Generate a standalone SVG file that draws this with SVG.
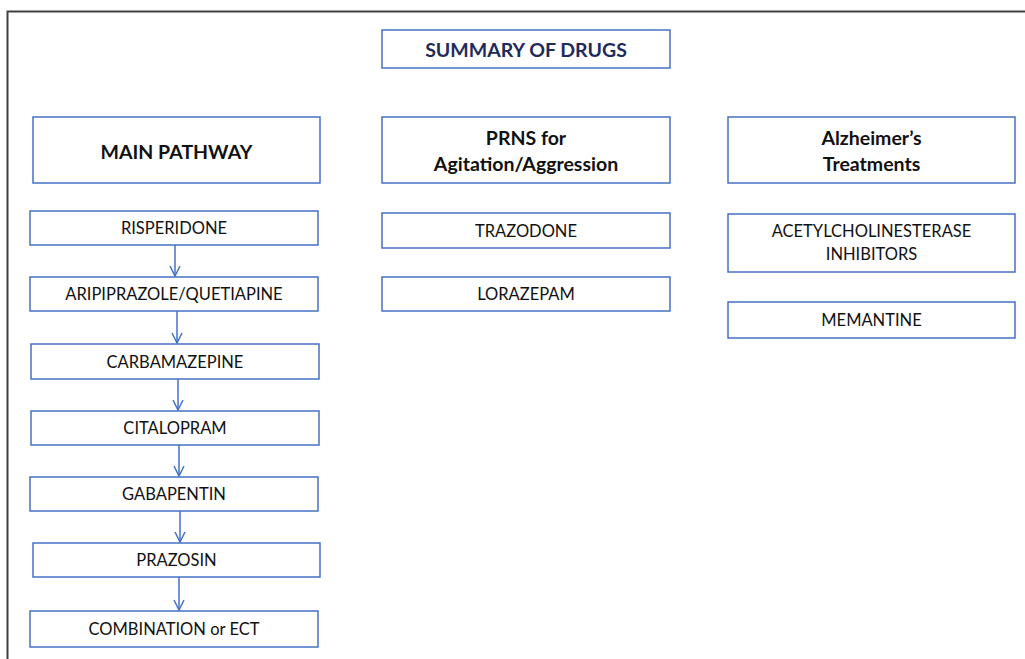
<svg xmlns="http://www.w3.org/2000/svg" width="1025" height="659" viewBox="0 0 1025 659">
<style>
.box{fill:#fff;stroke:#4472c4;stroke-width:1.5}
.t{font-family:Lato,"Open Sans",sans-serif;font-size:16.5px;fill:#111;text-anchor:middle;dominant-baseline:central}
.h{font-family:Lato,"Open Sans",sans-serif;font-size:19.5px;font-weight:bold;fill:#111;text-anchor:middle;dominant-baseline:central}
.title{fill:#1f2a5c}
.c{stroke:#4472c4;stroke-width:1.5;fill:none}
</style>
<defs>
<marker id="ah" viewBox="0 0 12 12" refX="11" refY="6" markerWidth="12" markerHeight="12" markerUnits="userSpaceOnUse" orient="auto">
<path d="M1,1 L11,6 L1,11" fill="none" stroke="#4472c4" stroke-width="1.5"/>
</marker>
</defs>
<rect width="1025" height="659" fill="#fff"/>
<path d="M7.5,700 V11.5 H1030" fill="none" stroke="#404040" stroke-width="2"/>
<g id="summary"><rect class="box" x="382" y="30" width="288" height="38"/><text class="h title" x="526" y="49">SUMMARY OF DRUGS</text></g>
<g id="main"><rect class="box" x="33" y="117" width="287" height="66"/><text class="h" x="176.5" y="151">MAIN PATHWAY</text></g>
<g id="prns"><rect class="box" x="382" y="117" width="288" height="66"/><text class="h" x="526" y="137">PRNS for</text><text class="h" x="526" y="163">Agitation/Aggression</text></g>
<g id="alz"><rect class="box" x="728" y="117" width="287" height="66"/><text class="h" x="871.5" y="137">Alzheimer’s</text><text class="h" x="871.5" y="163">Treatments</text></g>
<g id="risperidone"><rect class="box" x="30" y="211" width="288" height="34"/><text class="t" x="174" y="228">RISPERIDONE</text></g>
<g id="aripiprazole"><rect class="box" x="30" y="277" width="288" height="34"/><text class="t" x="174" y="294">ARIPIPRAZOLE/QUETIAPINE</text></g>
<g id="carbamazepine"><rect class="box" x="31" y="344" width="288" height="35"/><text class="t" x="175" y="362">CARBAMAZEPINE</text></g>
<g id="citalopram"><rect class="box" x="31" y="411" width="288" height="34"/><text class="t" x="175" y="428">CITALOPRAM</text></g>
<g id="gabapentin"><rect class="box" x="30" y="477" width="288" height="34"/><text class="t" x="174" y="494">GABAPENTIN</text></g>
<g id="prazosin"><rect class="box" x="33" y="543" width="287" height="34"/><text class="t" x="176.5" y="560">PRAZOSIN</text></g>
<g id="combination"><rect class="box" x="30" y="611" width="288" height="36"/><text class="t" x="174" y="629">COMBINATION or ECT</text></g>
<g id="trazodone"><rect class="box" x="382" y="213" width="288" height="35"/><text class="t" x="526" y="231">TRAZODONE</text></g>
<g id="lorazepam"><rect class="box" x="382" y="277" width="288" height="34"/><text class="t" x="526" y="294">LORAZEPAM</text></g>
<g id="ache"><rect class="box" x="728" y="214" width="287" height="58"/><text class="t" x="871.5" y="231">ACETYLCHOLINESTERASE</text><text class="t" x="871.5" y="254">INHIBITORS</text></g>
<g id="memantine"><rect class="box" x="728" y="302" width="287" height="36"/><text class="t" x="871.5" y="320">MEMANTINE</text></g>
<g id="connectors">
<line class="c" x1="175" y1="245" x2="175" y2="276" marker-end="url(#ah)"/>
<line class="c" x1="177" y1="311" x2="177" y2="343" marker-end="url(#ah)"/>
<line class="c" x1="178" y1="379" x2="178" y2="410" marker-end="url(#ah)"/>
<line class="c" x1="179" y1="445" x2="179" y2="476" marker-end="url(#ah)"/>
<line class="c" x1="180" y1="511" x2="180" y2="542" marker-end="url(#ah)"/>
<line class="c" x1="179" y1="577" x2="179" y2="610" marker-end="url(#ah)"/>
</g>
</svg>
